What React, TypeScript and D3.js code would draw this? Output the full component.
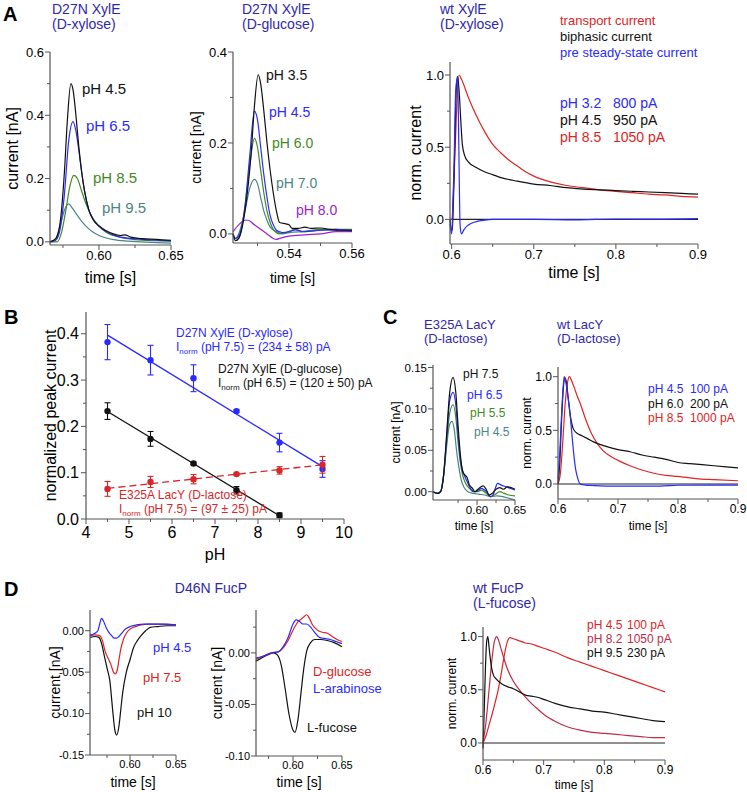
import React from 'react';
import * as d3 from 'd3';

type Pt = [number, number];

const FONT = 'Liberation Sans, Arial, sans-serif';
const TITLE_BLUE = '#3028a8';
const BLUE = '#2a2aff';
const RED = '#e02424';
const CRIMSON = '#c02c48';
const GREEN = '#3f8a1f';
const TEAL = '#4a8585';
const PURPLE = '#9a22d0';
const BLACK = '#111';

// ---- panel A, D27N XylE (D-xylose)
const xylPh45: Pt[] = [[0.566, 0], [0.570, 0.01], [0.573, 0.06], [0.576, 0.22], [0.578, 0.38], [0.5805, 0.5], [0.582, 0.48], [0.584, 0.4], [0.586, 0.3], [0.588, 0.22], [0.590, 0.16], [0.593, 0.1], [0.596, 0.07], [0.600, 0.05], [0.605, 0.035], [0.610, 0.025], [0.615, 0.02], [0.618, 0.022], [0.622, 0.015], [0.630, 0.01], [0.640, 0.008], [0.650, 0.005]];
const xylPh65: Pt[] = [[0.566, 0], [0.570, 0.005], [0.573, 0.04], [0.576, 0.15], [0.579, 0.32], [0.582, 0.38], [0.584, 0.35], [0.586, 0.29], [0.588, 0.22], [0.590, 0.16], [0.593, 0.1], [0.596, 0.07], [0.600, 0.05], [0.605, 0.033], [0.610, 0.022], [0.615, 0.015], [0.620, 0.012], [0.630, 0.008], [0.640, 0.005], [0.650, 0.003]];
const xylPh85: Pt[] = [[0.566, 0], [0.571, 0], [0.574, 0.03], [0.577, 0.1], [0.580, 0.18], [0.5825, 0.21], [0.585, 0.2], [0.588, 0.16], [0.591, 0.12], [0.595, 0.08], [0.600, 0.05], [0.605, 0.03], [0.610, 0.02], [0.620, 0.01], [0.630, 0.005], [0.650, 0.002]];
const xylPh95: Pt[] = [[0.566, 0], [0.570, 0.01], [0.573, 0.05], [0.576, 0.1], [0.579, 0.12], [0.581, 0.11], [0.584, 0.09], [0.588, 0.065], [0.592, 0.045], [0.596, 0.03], [0.600, 0.02], [0.605, 0.012], [0.610, 0.007], [0.620, 0.002], [0.650, -0.004]];

// ---- panel A, D27N XylE (D-glucose)
const gluPh35: Pt[] = [[0.5222, 0], [0.523, -0.015], [0.524, -0.01], [0.526, 0.05], [0.528, 0.18], [0.529, 0.28], [0.5302, 0.35], [0.531, 0.33], [0.532, 0.27], [0.533, 0.2], [0.534, 0.14], [0.535, 0.09], [0.536, 0.05], [0.537, 0.025], [0.539, 0.022], [0.540, 0.02], [0.541, 0.012], [0.543, 0.012], [0.545, 0.015], [0.547, 0.012], [0.550, 0.013], [0.553, 0.01], [0.556, 0.008], [0.560, 0.008]];
const gluPh45: Pt[] = [[0.5222, 0], [0.523, -0.01], [0.524, -0.005], [0.526, 0.06], [0.5275, 0.17], [0.529, 0.27], [0.530, 0.25], [0.531, 0.19], [0.532, 0.13], [0.533, 0.08], [0.534, 0.04], [0.535, 0.02], [0.536, 0.008], [0.538, 0.003], [0.540, 0.005], [0.542, 0.009], [0.545, 0.005], [0.550, 0.008], [0.555, 0.01], [0.560, 0.006]];
const gluPh60: Pt[] = [[0.5222, 0], [0.523, -0.015], [0.524, -0.01], [0.526, 0.06], [0.5275, 0.15], [0.529, 0.21], [0.530, 0.19], [0.531, 0.14], [0.532, 0.09], [0.533, 0.05], [0.534, 0.025], [0.535, 0.01], [0.537, 0], [0.540, 0.005], [0.542, 0.01], [0.544, 0.005], [0.547, 0.008], [0.550, 0.01], [0.555, 0.01], [0.560, 0.01]];
const gluPh70: Pt[] = [[0.5222, 0], [0.523, -0.01], [0.524, 0], [0.526, 0.05], [0.5275, 0.1], [0.529, 0.12], [0.530, 0.11], [0.531, 0.08], [0.532, 0.05], [0.533, 0.03], [0.534, 0.015], [0.536, 0.005], [0.538, 0], [0.540, 0.003], [0.545, 0.005], [0.550, 0.008], [0.560, 0.008]];
const gluPh80: Pt[] = [[0.5222, 0.005], [0.524, 0.02], [0.526, 0.03], [0.527, 0.03], [0.529, 0.02], [0.531, 0.01], [0.533, 0], [0.535, -0.01], [0.536, -0.012], [0.537, -0.01], [0.540, -0.005], [0.545, -0.002], [0.550, 0], [0.555, 0.005], [0.560, 0.005]];

// ---- panel A, wt XylE
const wtXylTransport: Pt[] = [[0.598, 0], [0.600, 0], [0.603, 0.3], [0.606, 0.75], [0.609, 1.0], [0.612, 0.97], [0.62, 0.85], [0.63, 0.72], [0.64, 0.61], [0.65, 0.52], [0.66, 0.46], [0.67, 0.41], [0.68, 0.37], [0.69, 0.33], [0.70, 0.3], [0.72, 0.26], [0.74, 0.235], [0.76, 0.22], [0.78, 0.205], [0.80, 0.195], [0.82, 0.185], [0.84, 0.175], [0.86, 0.17], [0.88, 0.16], [0.90, 0.155]];
const wtXylBiphasic: Pt[] = [[0.598, 0], [0.600, -0.08], [0.601, -0.05], [0.603, 0.3], [0.605, 0.8], [0.607, 0.99], [0.609, 0.9], [0.611, 0.7], [0.613, 0.52], [0.616, 0.44], [0.62, 0.4], [0.63, 0.36], [0.64, 0.33], [0.65, 0.31], [0.66, 0.29], [0.68, 0.265], [0.70, 0.245], [0.72, 0.235], [0.74, 0.22], [0.76, 0.21], [0.78, 0.205], [0.80, 0.2], [0.82, 0.195], [0.84, 0.19], [0.86, 0.185], [0.88, 0.18], [0.90, 0.175]];
const wtXylPreSteady: Pt[] = [[0.598, -0.03], [0.600, -0.1], [0.601, 0], [0.603, 0.4], [0.605, 0.9], [0.607, 0.98], [0.608, 0.8], [0.609, 0.4], [0.610, 0], [0.611, -0.08], [0.612, -0.1], [0.615, -0.07], [0.62, -0.04], [0.63, -0.015], [0.64, -0.005], [0.65, 0], [0.70, 0], [0.75, -0.003], [0.80, 0.003], [0.85, 0.002], [0.90, 0.005]];

// ---- panel B, peak current vs pH
const phXylose = [4.5, 5.5, 6.5, 7.5, 8.5, 9.5];
const xyloseMean = [0.382, 0.343, 0.304, 0.233, 0.165, 0.108];
const xyloseErr = [0.038, 0.032, 0.029, 0.003, 0.02, 0.018];
const phGlucose = [4.5, 5.5, 6.5, 7.5, 8.5];
const glucoseMean = [0.233, 0.173, 0.12, 0.062, 0.008];
const glucoseErr = [0.018, 0.016, 0.003, 0.008, 0.005];
const phLactose = [4.5, 5.5, 6.5, 7.5, 8.5, 9.5];
const lactoseMean = [0.065, 0.08, 0.086, 0.097, 0.105, 0.117];
const lactoseErr = [0.016, 0.012, 0.01, 0.002, 0.008, 0.018];
const xyloseFit: Pt[] = [[4.5, 0.397], [9.5, 0.113]];
const glucoseFit: Pt[] = [[4.5, 0.232], [8.5, 0.007]];
const lactoseFit: Pt[] = [[4.5, 0.066], [9.5, 0.117]];

// ---- panel C, E325A LacY
const lacPh75: Pt[] = [[0.542, 0], [0.548, -0.002], [0.552, 0], [0.556, 0.02], [0.560, 0.07], [0.564, 0.12], [0.5685, 0.138], [0.572, 0.12], [0.575, 0.08], [0.578, 0.045], [0.581, 0.025], [0.584, 0.02], [0.587, 0.017], [0.590, 0.008], [0.594, 0.004], [0.597, 0], [0.600, 0.002], [0.604, 0.005], [0.608, 0.007], [0.612, 0.003], [0.616, -0.004], [0.620, -0.002], [0.625, 0.003], [0.630, 0.005], [0.635, 0.003], [0.640, 0.006], [0.645, 0.005], [0.650, 0.003]];
const lacPh65: Pt[] = [[0.542, 0], [0.548, -0.002], [0.552, 0], [0.556, 0.02], [0.560, 0.065], [0.564, 0.11], [0.5685, 0.12], [0.572, 0.105], [0.575, 0.07], [0.578, 0.04], [0.581, 0.025], [0.584, 0.018], [0.588, 0.01], [0.592, 0.003], [0.597, 0], [0.602, 0.002], [0.606, 0.004], [0.610, 0.002], [0.614, -0.002], [0.618, -0.006], [0.621, -0.004], [0.624, 0.004], [0.627, 0.01], [0.632, 0.008], [0.638, 0.006], [0.644, 0.004], [0.650, 0.002]];
const lacPh55: Pt[] = [[0.542, 0], [0.548, -0.002], [0.552, 0], [0.556, 0.02], [0.560, 0.06], [0.564, 0.095], [0.5685, 0.105], [0.572, 0.09], [0.575, 0.06], [0.578, 0.035], [0.581, 0.02], [0.585, 0.01], [0.590, 0.004], [0.595, 0.0], [0.600, 0.0], [0.606, 0.002], [0.612, -0.002], [0.618, -0.006], [0.624, -0.003], [0.630, 0.0], [0.636, -0.002], [0.642, -0.004], [0.650, -0.005]];
const lacPh45: Pt[] = [[0.542, 0], [0.548, -0.002], [0.552, 0], [0.556, 0.02], [0.560, 0.055], [0.5635, 0.08], [0.567, 0.085], [0.570, 0.075], [0.573, 0.05], [0.576, 0.03], [0.579, 0.015], [0.583, 0.005], [0.588, 0.0], [0.595, -0.002], [0.602, -0.003], [0.610, -0.004], [0.618, -0.006], [0.626, -0.005], [0.634, -0.006], [0.642, -0.008], [0.650, -0.01]];

// ---- panel C, wt LacY
const wtLacPh45: Pt[] = [[0.600, 0.05], [0.603, 0.3], [0.606, 0.65], [0.609, 0.93], [0.6105, 1.0], [0.613, 0.95], [0.617, 0.8], [0.621, 0.6], [0.625, 0.35], [0.629, 0.15], [0.633, 0.05], [0.637, 0], [0.645, -0.01], [0.66, -0.015], [0.70, -0.02], [0.75, -0.02], [0.77, -0.02], [0.80, -0.012], [0.85, -0.01], [0.90, -0.01]];
const wtLacPh60: Pt[] = [[0.600, 0], [0.603, 0.2], [0.606, 0.6], [0.609, 0.9], [0.6115, 0.99], [0.614, 0.95], [0.617, 0.8], [0.621, 0.62], [0.625, 0.52], [0.630, 0.48], [0.64, 0.45], [0.65, 0.42], [0.66, 0.39], [0.68, 0.35], [0.70, 0.32], [0.72, 0.3], [0.74, 0.27], [0.76, 0.25], [0.78, 0.23], [0.80, 0.2], [0.82, 0.19], [0.84, 0.18], [0.86, 0.17], [0.88, 0.16], [0.90, 0.15]];
const wtLacPh85: Pt[] = [[0.600, 0], [0.604, 0.1], [0.608, 0.4], [0.612, 0.75], [0.616, 0.95], [0.619, 1.0], [0.622, 0.97], [0.627, 0.9], [0.632, 0.82], [0.637, 0.75], [0.645, 0.62], [0.655, 0.48], [0.665, 0.38], [0.675, 0.31], [0.69, 0.25], [0.70, 0.22], [0.72, 0.17], [0.74, 0.13], [0.76, 0.1], [0.78, 0.08], [0.80, 0.07], [0.83, 0.05], [0.86, 0.04], [0.90, 0.03]];

// ---- panel D, D46N FucP
const fucPh45: Pt[] = [[0.5565, -0.005], [0.562, -0.003], [0.565, 0], [0.567, 0.008], [0.569, 0.015], [0.571, 0.012], [0.574, 0.004], [0.577, -0.002], [0.580, -0.006], [0.583, -0.009], [0.5855, -0.009], [0.588, -0.007], [0.591, -0.003], [0.595, 0.002], [0.600, 0.005], [0.607, 0.007], [0.615, 0.008], [0.630, 0.008], [0.640, 0.008], [0.650, 0.007]];
const fucPh75: Pt[] = [[0.5565, -0.006], [0.562, -0.005], [0.567, -0.006], [0.570, -0.012], [0.573, -0.025], [0.576, -0.033], [0.579, -0.04], [0.582, -0.05], [0.584, -0.052], [0.586, -0.048], [0.588, -0.035], [0.590, -0.022], [0.593, -0.01], [0.596, -0.003], [0.600, 0.002], [0.606, 0.005], [0.612, 0.007], [0.620, 0.008], [0.630, 0.008], [0.650, 0.007]];
const fucPh10: Pt[] = [[0.5565, -0.008], [0.562, -0.007], [0.566, -0.008], [0.569, -0.015], [0.572, -0.03], [0.575, -0.045], [0.578, -0.06], [0.5815, -0.1], [0.5835, -0.12], [0.5855, -0.126], [0.588, -0.115], [0.590, -0.095], [0.592, -0.075], [0.596, -0.05], [0.600, -0.035], [0.604, -0.02], [0.608, -0.012], [0.612, -0.006], [0.617, 0], [0.622, 0.004], [0.630, 0.005], [0.640, 0.006], [0.650, 0.006]];
const fucGlucose: Pt[] = [[0.5622, -0.006], [0.570, -0.003], [0.578, 0], [0.585, 0.001], [0.590, 0.005], [0.595, 0.012], [0.600, 0.022], [0.605, 0.03], [0.610, 0.034], [0.614, 0.037], [0.617, 0.033], [0.620, 0.027], [0.625, 0.022], [0.630, 0.02], [0.635, 0.019], [0.640, 0.016], [0.645, 0.013], [0.650, 0.011]];
const fucArabinose: Pt[] = [[0.5622, -0.005], [0.570, -0.003], [0.578, 0], [0.585, 0.001], [0.590, 0.006], [0.595, 0.015], [0.600, 0.028], [0.603, 0.032], [0.606, 0.031], [0.610, 0.028], [0.614, 0.028], [0.618, 0.025], [0.622, 0.02], [0.627, 0.015], [0.632, 0.014], [0.638, 0.013], [0.644, 0.011], [0.650, 0.009]];
const fucFucose: Pt[] = [[0.5622, -0.008], [0.568, -0.005], [0.574, -0.002], [0.580, 0], [0.584, -0.002], [0.588, -0.012], [0.592, -0.035], [0.596, -0.06], [0.600, -0.075], [0.602, -0.077], [0.605, -0.065], [0.608, -0.04], [0.611, -0.015], [0.614, 0.002], [0.618, 0.01], [0.622, 0.013], [0.628, 0.013], [0.635, 0.012], [0.642, 0.01], [0.650, 0.006]];

// ---- panel D, wt FucP
const wtFucPh45: Pt[] = [[0.600, 0], [0.605, 0.07], [0.610, 0.17], [0.615, 0.27], [0.620, 0.38], [0.625, 0.5], [0.630, 0.65], [0.635, 0.82], [0.640, 0.95], [0.6445, 0.99], [0.65, 0.98], [0.66, 0.96], [0.67, 0.94], [0.68, 0.93], [0.69, 0.91], [0.70, 0.89], [0.72, 0.85], [0.74, 0.8], [0.76, 0.76], [0.78, 0.72], [0.80, 0.68], [0.82, 0.64], [0.84, 0.6], [0.86, 0.56], [0.88, 0.52], [0.90, 0.48]];
const wtFucPh82: Pt[] = [[0.600, 0], [0.605, 0.2], [0.610, 0.5], [0.615, 0.8], [0.619, 0.96], [0.6226, 1.0], [0.626, 0.96], [0.63, 0.88], [0.64, 0.7], [0.65, 0.58], [0.66, 0.5], [0.67, 0.43], [0.68, 0.37], [0.69, 0.32], [0.70, 0.27], [0.72, 0.2], [0.74, 0.15], [0.76, 0.12], [0.78, 0.1], [0.80, 0.09], [0.82, 0.08], [0.84, 0.07], [0.86, 0.06], [0.88, 0.05], [0.90, 0.05]];
const wtFucPh95: Pt[] = [[0.600, -0.05], [0.602, 0.3], [0.604, 0.7], [0.606, 0.95], [0.608, 1.0], [0.610, 0.9], [0.613, 0.75], [0.617, 0.64], [0.622, 0.6], [0.63, 0.56], [0.64, 0.53], [0.65, 0.51], [0.66, 0.48], [0.67, 0.45], [0.68, 0.44], [0.69, 0.43], [0.70, 0.41], [0.72, 0.37], [0.74, 0.34], [0.76, 0.32], [0.78, 0.3], [0.80, 0.29], [0.82, 0.27], [0.84, 0.25], [0.86, 0.23], [0.88, 0.21], [0.90, 0.2]];

// tick values
const ticksTime2 = [0.60, 0.65];
const ticksTimeGlu = [0.54, 0.56];
const ticksTimeLong = [0.6, 0.7, 0.8, 0.9];
const ticksNorm = [0, 0.5, 1.0];
const ticksPh = [4, 5, 6, 7, 8, 9, 10];
const ticksPeak = [0, 0.1, 0.2, 0.3, 0.4];

interface Curve { data: Pt[]; color: string }
interface Txt { x: number; y: number; text: string; color: string; size: number; anchor?: string }

interface PanelProps {
  left: number; right: number; top: number; bottom: number;
  xDomain: [number, number]; yDomain: [number, number];
  xTicks: number[]; yTicks: number[]; xMinor?: number[]; yMinor?: number[];
  xDigits: number; yDigits: number; tickSize: number;
  curves: Curve[]; zero?: boolean;
  yTitle: string; yTitleX: number; xTitle: string; xTitleY: number; titleSize: number;
  texts?: Txt[];
}

const AXIS = '#555';

function Panel(p: PanelProps) {
  const x = d3.scaleLinear().domain(p.xDomain).range([p.left, p.right]);
  const y = d3.scaleLinear().domain(p.yDomain).range([p.bottom, p.top]);
  const line = d3.line<Pt>().x(d => x(d[0])).y(d => y(d[1])).curve(d3.curveMonotoneX);
  return (
    <g fontFamily={FONT}>
      {p.zero && <line x1={p.left} x2={p.right} y1={y(0)} y2={y(0)} stroke="#222" strokeWidth={1.2} />}
      {p.curves.map((c, i) => (
        <path key={i} d={line(c.data) || ''} fill="none" stroke={c.color} strokeWidth={1.2} />
      ))}
      <line x1={p.left} x2={p.left} y1={p.top} y2={p.bottom} stroke={AXIS} strokeWidth={1.2} />
      <line x1={p.left} x2={p.right} y1={p.bottom} y2={p.bottom} stroke={AXIS} strokeWidth={1.2} />
      {p.yTicks.map(t => (
        <g key={'y' + t}>
          <line x1={p.left - 5} x2={p.left} y1={y(t)} y2={y(t)} stroke={AXIS} />
          <text x={p.left - 6} y={y(t)} dy="0.35em" textAnchor="end" fontSize={p.tickSize}>
            {t.toFixed(p.yDigits)}
          </text>
        </g>
      ))}
      {(p.yMinor || []).map(t => (
        <line key={'ym' + t} x1={p.left - 3} x2={p.left} y1={y(t)} y2={y(t)} stroke={AXIS} />
      ))}
      {p.xTicks.map(t => (
        <g key={'x' + t}>
          <line x1={x(t)} x2={x(t)} y1={p.bottom} y2={p.bottom + 5} stroke={AXIS} />
          <text x={x(t)} y={p.bottom + 4 + p.tickSize * 0.85} textAnchor="middle" fontSize={p.tickSize}>
            {t.toFixed(p.xDigits)}
          </text>
        </g>
      ))}
      {(p.xMinor || []).map(t => (
        <line key={'xm' + t} x1={x(t)} x2={x(t)} y1={p.bottom} y2={p.bottom + 3} stroke={AXIS} />
      ))}
      <text transform={`translate(${p.yTitleX},${(p.top + p.bottom) / 2}) rotate(-90)`} textAnchor="middle"
        dy="0.35em" fontSize={p.titleSize}>{p.yTitle}</text>
      <text x={(p.left + p.right) / 2} y={p.xTitleY} textAnchor="middle" fontSize={p.titleSize}>{p.xTitle}</text>
      {(p.texts || []).map((t, i) => (
        <text key={i} x={t.x} y={t.y} fill={t.color} fontSize={t.size} textAnchor={t.anchor || 'start'}>{t.text}</text>
      ))}
    </g>
  );
}

function Title({ x, y, lines, size = 14 }: { x: number; y: number; lines: string[]; size?: number }) {
  return (
    <g fontFamily={FONT} fill={TITLE_BLUE} fontSize={size}>
      {lines.map((l, i) => <text key={i} x={x} y={y + i * (size + 1)}>{l}</text>)}
    </g>
  );
}

function Letter({ x, y, t }: { x: number; y: number; t: string }) {
  return <text x={x} y={y} fontFamily={FONT} fontWeight="bold" fontSize={20}>{t}</text>;
}

function Inorm({ x, y, color, rest }: { x: number; y: number; color: string; rest: string }) {
  return (
    <text x={x} y={y} fill={color} fontSize={12} fontFamily={FONT}>
      I<tspan fontSize={8} dy={3}>norm</tspan><tspan dy={-3}>{' ' + rest}</tspan>
    </text>
  );
}

function PeakPanel() {
  const left = 86, right = 344, top = 312, bottom = 519;
  const x = d3.scaleLinear().domain([4, 10]).range([left, right]);
  const y = d3.scaleLinear().domain([0, 0.447]).range([bottom, top]);
  const fit = d3.line<Pt>().x(d => x(d[0])).y(d => y(d[1]));
  const groups = [
    { ph: phXylose, mean: xyloseMean, err: xyloseErr, color: BLUE },
    { ph: phGlucose, mean: glucoseMean, err: glucoseErr, color: BLACK },
    { ph: phLactose, mean: lactoseMean, err: lactoseErr, color: '#d8262a' },
  ];
  const minorX = d3.range(4.5, 10, 1);
  const minorY = d3.range(0.05, 0.45, 0.1);
  return (
    <g fontFamily={FONT}>
      <path d={fit(xyloseFit) || ''} stroke={BLUE} strokeWidth={1.3} fill="none" />
      <path d={fit(glucoseFit) || ''} stroke={BLACK} strokeWidth={1.3} fill="none" />
      <path d={fit(lactoseFit) || ''} stroke="#d8262a" strokeWidth={1.3} fill="none" strokeDasharray="7,4" />
      {groups.map((g, gi) => (
        <g key={gi} stroke={g.color} fill={g.color}>
          {g.ph.map((ph, i) => {
            const cx = x(ph), y1 = y(g.mean[i] - g.err[i]), y2 = y(g.mean[i] + g.err[i]);
            return (
              <g key={i}>
                <line x1={cx} x2={cx} y1={y1} y2={y2} strokeWidth={1.1} />
                <line x1={cx - 3} x2={cx + 3} y1={y1} y2={y1} strokeWidth={1.1} />
                <line x1={cx - 3} x2={cx + 3} y1={y2} y2={y2} strokeWidth={1.1} />
                <circle cx={cx} cy={y(g.mean[i])} r={3.2} stroke="none" />
              </g>
            );
          })}
        </g>
      ))}
      <line x1={left} x2={left} y1={top} y2={bottom} stroke={AXIS} strokeWidth={1.2} />
      <line x1={left} x2={right} y1={bottom} y2={bottom} stroke={AXIS} strokeWidth={1.2} />
      {ticksPeak.map(t => (
        <g key={t}>
          <line x1={left - 5} x2={left} y1={y(t)} y2={y(t)} stroke={AXIS} />
          <text x={left - 7} y={y(t)} dy="0.35em" textAnchor="end" fontSize={16}>{t.toFixed(1)}</text>
        </g>
      ))}
      {minorY.map(t => <line key={t} x1={left - 3} x2={left} y1={y(t)} y2={y(t)} stroke={AXIS} />)}
      {ticksPh.map(t => (
        <g key={t}>
          <line x1={x(t)} x2={x(t)} y1={bottom} y2={bottom + 5} stroke={AXIS} />
          <text x={x(t)} y={bottom + 19} textAnchor="middle" fontSize={16}>{t}</text>
        </g>
      ))}
      {minorX.map(t => <line key={t} x1={x(t)} x2={x(t)} y1={bottom} y2={bottom + 3} stroke={AXIS} />)}
      <text transform={`translate(50,${(top + bottom) / 2}) rotate(-90)`} textAnchor="middle" dy="0.35em" fontSize={16}>
        normalized peak current
      </text>
      <text x={(left + right) / 2} y={560} textAnchor="middle" fontSize={16}>pH</text>
      <text x={176} y={337} fill={BLUE} fontSize={12}>D27N XylE (D-xylose)</text>
      <Inorm x={176} y={351} color={BLUE} rest="(pH 7.5) = (234 ± 58) pA" />
      <text x={218} y={373} fill={BLACK} fontSize={12}>D27N XylE (D-glucose)</text>
      <Inorm x={218} y={387} color={BLACK} rest="(pH 6.5) = (120 ± 50) pA" />
      <text x={119} y={499} fill="#d8262a" fontSize={12}>E325A LacY (D-lactose)</text>
      <Inorm x={119} y={513} color="#d8262a" rest="(pH 7.5) = (97 ± 25) pA" />
    </g>
  );
}

export default function App() {
  return (
    <svg width={747} height={792} style={{ position: 'absolute', left: 0, top: 0, background: '#fff' }}>
      <rect width={747} height={792} fill="#fff" />
      {/* A */}
      <Letter x={3} y={21} t="A" />
      <Title x={52} y={14} lines={['D27N XylE', '(D-xylose)']} />
      <Panel left={50} right={171} top={52} bottom={245} xDomain={[0.566, 0.65]} yDomain={[-0.01, 0.6]}
        xTicks={ticksTime2} yTicks={[0, 0.2, 0.4, 0.6]} xMinor={[0.575, 0.625]} yMinor={[0.1, 0.3, 0.5]}
        xDigits={2} yDigits={1} tickSize={13}
        curves={[{ data: xylPh95, color: TEAL }, { data: xylPh85, color: GREEN }, { data: xylPh65, color: BLUE }, { data: xylPh45, color: BLACK }]}
        yTitle="current [nA]" yTitleX={12} xTitle="time [s]" xTitleY={283} titleSize={16}
        texts={[
          { x: 82, y: 94, text: 'pH 4.5', color: BLACK, size: 15 },
          { x: 86, y: 131, text: 'pH 6.5', color: BLUE, size: 15 },
          { x: 93, y: 183, text: 'pH 8.5', color: GREEN, size: 15 },
          { x: 102, y: 213, text: 'pH 9.5', color: TEAL, size: 15 },
        ]} />
      <Title x={242} y={14} lines={['D27N XylE', '(D-glucose)']} />
      <Panel left={233} right={352} top={52} bottom={243} xDomain={[0.5222, 0.56]} yDomain={[-0.02, 0.4]}
        xTicks={ticksTimeGlu} yTicks={[0, 0.2, 0.4]} xMinor={[0.53, 0.55]} yMinor={[0.1, 0.3]}
        xDigits={2} yDigits={1} tickSize={13}
        curves={[{ data: gluPh80, color: PURPLE }, { data: gluPh70, color: TEAL }, { data: gluPh60, color: GREEN }, { data: gluPh45, color: BLUE }, { data: gluPh35, color: BLACK }]}
        yTitle="current [nA]" yTitleX={196} xTitle="time [s]" xTitleY={283} titleSize={14}
        texts={[
          { x: 266, y: 80, text: 'pH 3.5', color: BLACK, size: 14 },
          { x: 269, y: 117, text: 'pH 4.5', color: BLUE, size: 14 },
          { x: 272, y: 148, text: 'pH 6.0', color: GREEN, size: 14 },
          { x: 276, y: 188, text: 'pH 7.0', color: TEAL, size: 14 },
          { x: 296, y: 215, text: 'pH 8.0', color: PURPLE, size: 14 },
        ]} />
      <Title x={440} y={14} lines={['wt XylE', '(D-xylose)']} />
      <Panel left={450} right={698} top={62} bottom={244} xDomain={[0.598, 0.9]} yDomain={[-0.17, 1.09]}
        xTicks={ticksTimeLong} yTicks={ticksNorm} xMinor={[0.65, 0.75, 0.85]} yMinor={[0.25, 0.75]}
        xDigits={1} yDigits={1} tickSize={13} zero
        curves={[{ data: wtXylTransport, color: RED }, { data: wtXylBiphasic, color: BLACK }, { data: wtXylPreSteady, color: BLUE }]}
        yTitle="norm. current" yTitleX={415} xTitle="time [s]" xTitleY={278} titleSize={16}
        texts={[
          { x: 560, y: 25, text: 'transport current', color: RED, size: 13 },
          { x: 560, y: 41, text: 'biphasic current', color: BLACK, size: 13 },
          { x: 560, y: 57, text: 'pre steady-state current', color: BLUE, size: 13 },
          { x: 560, y: 108, text: 'pH 3.2', color: BLUE, size: 14 },
          { x: 613, y: 108, text: '800 pA', color: BLUE, size: 14 },
          { x: 560, y: 125, text: 'pH 4.5', color: BLACK, size: 14 },
          { x: 613, y: 125, text: '950 pA', color: BLACK, size: 14 },
          { x: 560, y: 142, text: 'pH 8.5', color: RED, size: 14 },
          { x: 613, y: 142, text: '1050 pA', color: RED, size: 14 },
        ]} />

      {/* B */}
      <Letter x={4} y={324} t="B" />
      <PeakPanel />

      {/* C */}
      <Letter x={383} y={324} t="C" />
      <Title x={424} y={329} lines={['E325A LacY', '(D-lactose)']} size={13} />
      <Panel left={433} right={515} top={365} bottom={500} xDomain={[0.542, 0.65]} yDomain={[-0.01, 0.153]}
        xTicks={ticksTime2} yTicks={[0, 0.05, 0.1, 0.15]} xMinor={[0.575, 0.625]} yMinor={[0.025, 0.075, 0.125]}
        xDigits={2} yDigits={2} tickSize={11.5}
        curves={[{ data: lacPh45, color: TEAL }, { data: lacPh55, color: GREEN }, { data: lacPh65, color: BLUE }, { data: lacPh75, color: BLACK }]}
        yTitle="current [nA]" yTitleX={396} xTitle="time [s]" xTitleY={530} titleSize={12}
        texts={[
          { x: 463, y: 378, text: 'pH 7.5', color: BLACK, size: 12 },
          { x: 467, y: 399, text: 'pH 6.5', color: BLUE, size: 12 },
          { x: 470, y: 417, text: 'pH 5.5', color: GREEN, size: 12 },
          { x: 474, y: 436, text: 'pH 4.5', color: TEAL, size: 12 },
        ]} />
      <Title x={557} y={329} lines={['wt LacY', '(D-lactose)']} size={13} />
      <Panel left={558} right={738} top={367} bottom={499} xDomain={[0.6, 0.9]} yDomain={[-0.14, 1.09]}
        xTicks={ticksTimeLong} yTicks={ticksNorm} xMinor={[0.65, 0.75, 0.85]} yMinor={[0.25, 0.75]}
        xDigits={1} yDigits={1} tickSize={12} zero
        curves={[{ data: wtLacPh85, color: RED }, { data: wtLacPh60, color: BLACK }, { data: wtLacPh45, color: BLUE }]}
        yTitle="norm. current" yTitleX={527} xTitle="time [s]" xTitleY={530} titleSize={12}
        texts={[
          { x: 648, y: 393, text: 'pH 4.5', color: BLUE, size: 12 },
          { x: 690, y: 393, text: '100 pA', color: BLUE, size: 12 },
          { x: 648, y: 408, text: 'pH 6.0', color: BLACK, size: 12 },
          { x: 690, y: 408, text: '200 pA', color: BLACK, size: 12 },
          { x: 648, y: 422, text: 'pH 8.5', color: RED, size: 12 },
          { x: 690, y: 422, text: '1000 pA', color: RED, size: 12 },
        ]} />

      {/* D */}
      <Letter x={4} y={596} t="D" />
      <text x={211} y={593} textAnchor="middle" fill={TITLE_BLUE} fontSize={14} fontFamily={FONT}>D46N FucP</text>
      <Panel left={90} right={176} top={610} bottom={755} xDomain={[0.5565, 0.65]} yDomain={[-0.15, 0.025]}
        xTicks={ticksTime2} yTicks={[0, -0.05, -0.1, -0.15]} xMinor={[0.575, 0.625]} yMinor={[-0.025, -0.075, -0.125]}
        xDigits={2} yDigits={2} tickSize={11}
        curves={[{ data: fucPh10, color: BLACK }, { data: fucPh75, color: RED }, { data: fucPh45, color: BLUE }]}
        yTitle="current [nA]" yTitleX={55} xTitle="time [s]" xTitleY={787} titleSize={14}
        texts={[
          { x: 153, y: 652, text: 'pH 4.5', color: BLUE, size: 13 },
          { x: 143, y: 682, text: 'pH 7.5', color: RED, size: 13 },
          { x: 137, y: 717, text: 'pH 10', color: BLACK, size: 13 },
        ]} />
      <Panel left={256} right={342} top={610} bottom={756} xDomain={[0.5622, 0.65]} yDomain={[-0.1, 0.0416]}
        xTicks={ticksTime2} yTicks={[0, -0.05, -0.1]} xMinor={[0.575, 0.625]} yMinor={[-0.025, -0.075, 0.025]}
        xDigits={2} yDigits={2} tickSize={11}
        curves={[{ data: fucFucose, color: BLACK }, { data: fucGlucose, color: RED }, { data: fucArabinose, color: BLUE }]}
        yTitle="current [nA]" yTitleX={217} xTitle="time [s]" xTitleY={787} titleSize={14}
        texts={[
          { x: 313, y: 676, text: 'D-glucose', color: RED, size: 13 },
          { x: 313, y: 693, text: 'L-arabinose', color: BLUE, size: 13 },
          { x: 307, y: 732, text: 'L-fucose', color: BLACK, size: 13 },
        ]} />
      <Title x={473} y={593} lines={['wt FucP', '(L-fucose)']} />
      <Panel left={483} right={665} top={627} bottom={760} xDomain={[0.6, 0.9]} yDomain={[-0.16, 1.09]}
        xTicks={ticksTimeLong} yTicks={ticksNorm} xMinor={[0.65, 0.75, 0.85]} yMinor={[0.25, 0.75]}
        xDigits={1} yDigits={1} tickSize={12} zero
        curves={[{ data: wtFucPh45, color: RED }, { data: wtFucPh82, color: CRIMSON }, { data: wtFucPh95, color: BLACK }]}
        yTitle="norm. current" yTitleX={452} xTitle="time [s]" xTitleY={789} titleSize={12}
        texts={[
          { x: 587, y: 629, text: 'pH 4.5', color: RED, size: 12 },
          { x: 627, y: 629, text: '100 pA', color: RED, size: 12 },
          { x: 587, y: 643, text: 'pH 8.2', color: CRIMSON, size: 12 },
          { x: 627, y: 643, text: '1050 pA', color: CRIMSON, size: 12 },
          { x: 587, y: 657, text: 'pH 9.5', color: BLACK, size: 12 },
          { x: 627, y: 657, text: '230 pA', color: BLACK, size: 12 },
        ]} />
    </svg>
  );
}
